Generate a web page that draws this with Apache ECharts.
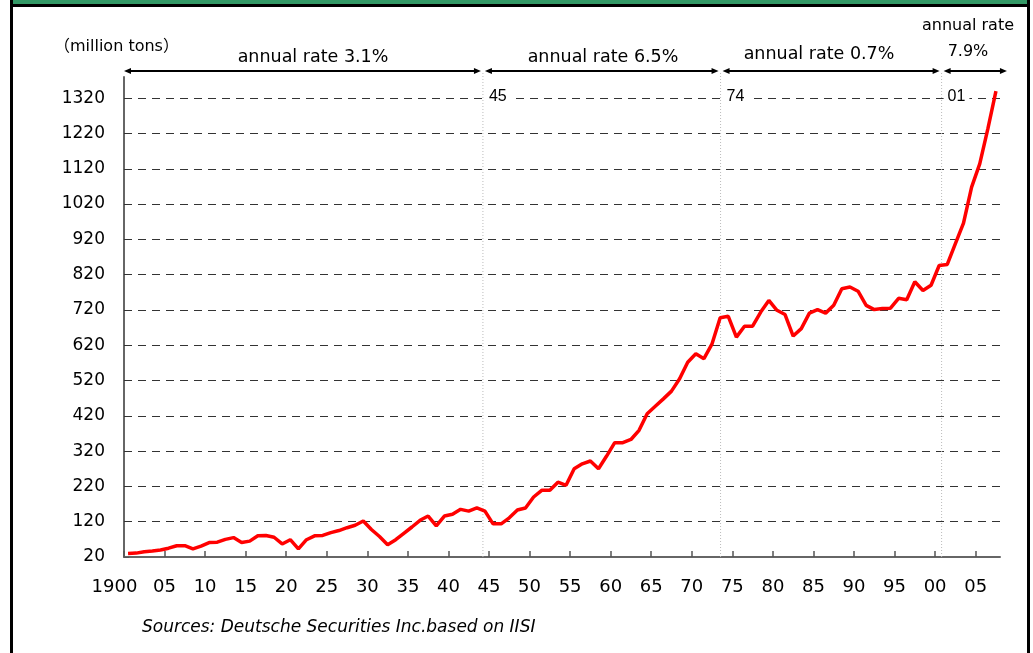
<!DOCTYPE html>
<html>
<head>
<meta charset="utf-8">
<script src="https://cdn.jsdelivr.net/npm/echarts@6/dist/echarts.min.js"></script>
<style>
html, body { margin: 0; padding: 0; background: #fff; }
#main { width: 1033px; height: 653px; }
</style>
</head>
<body>
<div id="main"></div>
<script>
// world crude steel production, million tons
var years = [
  1900, 1901, 1902, 1903, 1904, 1905, 1906, 1907, 1908, 1909,
  1910, 1911, 1912, 1913, 1914, 1915, 1916, 1917, 1918, 1919,
  1920, 1921, 1922, 1923, 1924, 1925, 1926, 1927, 1928, 1929,
  1930, 1931, 1932, 1933, 1934, 1935, 1936, 1937, 1938, 1939,
  1940, 1941, 1942, 1943, 1944, 1945, 1946, 1947, 1948, 1949,
  1950, 1951, 1952, 1953, 1954, 1955, 1956, 1957, 1958, 1959,
  1960, 1961, 1962, 1963, 1964, 1965, 1966, 1967, 1968, 1969,
  1970, 1971, 1972, 1973, 1974, 1975, 1976, 1977, 1978, 1979,
  1980, 1981, 1982, 1983, 1984, 1985, 1986, 1987, 1988, 1989,
  1990, 1991, 1992, 1993, 1994, 1995, 1996, 1997, 1998, 1999,
  2000, 2001, 2002, 2003, 2004, 2005, 2006, 2007
];
var steel = [
  30, 31, 35, 37, 40, 45, 52, 52, 43, 51,
  61, 62, 70, 75, 61, 65, 80, 81, 76, 57,
  69, 43, 69, 80, 81, 89, 95, 103, 110, 122,
  98, 78, 55, 69, 87, 105, 124, 136, 108, 136,
  141, 155, 150, 159, 150, 114, 114, 131, 153, 159,
  190, 209, 209, 232, 223, 270, 284, 292, 270, 306,
  344, 344, 353, 379, 426, 447, 468, 490, 525, 572,
  596, 582, 624, 698, 702, 643, 674, 674, 714, 747,
  719, 707, 646, 667, 711, 721, 711, 733, 780, 785,
  773, 733, 721, 724, 725, 753, 749, 800, 775, 790,
  846, 849, 908, 966, 1068, 1134, 1233, 1340
];
var yTicks = [20, 120, 220, 320, 420, 520, 620, 720, 820, 920, 1020, 1120, 1220, 1320];
var xTickLabels = ['1900', '05', '10', '15', '20', '25', '30', '35', '40', '45', '50',
  '55', '60', '65', '70', '75', '80', '85', '90', '95', '00', '05'];
// period boundaries (axis units) and growth labels
var periodBounds = [1899.5, 1943.75, 1973.05, 2000.3, 2008.6];
var rateLabels = ['annual rate 3.1%', 'annual rate 6.5%', 'annual rate 0.7%', 'annual rate\n7.9%'];
var breakLabels = ['45', '74', '01'];

var xStart = 1899.5;
var xTickValues = xTickLabels.map(function (l, i) { return xStart + 5 * i; });

var chart = echarts.init(document.getElementById('main'));

var option = {
  animation: false,
  backgroundColor: '#fff',
  grid: { left: 124, right: 33, top: 77, bottom: 96, outerBoundsMode: 'none' },
  xAxis: {
    type: 'value',
    min: xStart,
    max: 2007.5,
    axisLine: { lineStyle: { color: '#666', width: 2 } },
    axisTick: { inside: true, length: 6, customValues: xTickValues, lineStyle: { color: '#555', width: 1.5 } },
    axisLabel: {
      customValues: xTickValues,
      margin: 21,
      color: '#000',
      fontSize: 18,
      fontFamily: 'DejaVu Sans',
      formatter: function (v) {
        var i = Math.round((v - xStart) / 5);
        return i === 0 ? '{first|' + xTickLabels[0] + '}' : xTickLabels[i];
      },
      rich: {
        first: { fontSize: 18, fontFamily: 'DejaVu Sans', color: '#000', padding: [0, 19, 0, 0] }
      }
    },
    splitLine: { show: false }
  },
  yAxis: {
    type: 'value',
    min: 20,
    max: 1380,
    axisLine: { show: true, lineStyle: { color: '#666', width: 2 } },
    axisTick: { show: true, inside: true, length: 5, customValues: yTicks, lineStyle: { color: '#555' } },
    axisLabel: {
      customValues: yTicks, margin: 19, color: '#000', fontSize: 17, fontFamily: 'DejaVu Sans',
      formatter: function (v) { return String(v); }
    },
    splitLine: { show: false }
  },
  series: [{
    type: 'line',
    data: years.map(function (y, i) { return [y, steel[i]]; }),
    symbol: 'none',
    clip: false,
    z: 3,
    lineStyle: { color: '#ff0000', width: 3.5 },
    markLine: {
      silent: true,
      z: 1,
      symbol: 'none',
      label: { show: false },
      lineStyle: { color: '#333', width: 1, type: [8, 6] },
      data: yTicks.slice(1).map(function (v) { return { yAxis: v }; })
    }
  }]
};
chart.setOption(option);

function px(x, y) {
  return chart.convertToPixel({ gridIndex: 0 }, [x, y]);
}

var bottomY = px(xStart, 20)[1];
var arrowY = 71;
var els = [];

// frame
els.push({ type: 'rect', shape: { x: 10, y: 0, width: 1020, height: 5 }, style: { fill: '#339966' } });
els.push({ type: 'line', shape: { x1: 10, y1: 5.5, x2: 1030, y2: 5.5 }, style: { stroke: '#000', lineWidth: 3 } });
els.push({ type: 'line', shape: { x1: 11.5, y1: 0, x2: 11.5, y2: 653 }, style: { stroke: '#000', lineWidth: 3 } });
els.push({ type: 'line', shape: { x1: 1028.5, y1: 0, x2: 1028.5, y2: 653 }, style: { stroke: '#000', lineWidth: 3 } });

// dividers between periods
for (var b = 1; b < periodBounds.length - 1; b++) {
  var dx = px(periodBounds[b], 20)[0];
  els.push({
    type: 'line', z: 2,
    shape: { x1: dx, y1: arrowY + 2, x2: dx, y2: bottomY },
    style: { stroke: '#bbb', lineWidth: 1, lineDash: [1, 2] }
  });
  els.push({
    type: 'text', z: 5,
    x: dx + 2, y: px(xStart, 1320)[1] - 2,
    style: {
      text: breakLabels[b - 1], fill: '#000', fontSize: 16, fontFamily: 'Liberation Sans',
      verticalAlign: 'middle', align: 'left', backgroundColor: '#fff', padding: [1, 4, 1, 4]
    }
  });
}

// double arrows over each period
var rateLayout = [[313, 57], [603, 57], [819, 54], [968, 39]];
for (var p = 0; p < periodBounds.length - 1; p++) {
  var x1 = px(periodBounds[p], 20)[0] + (p > 0 ? 2 : 0);
  var x2 = px(periodBounds[p + 1], 20)[0] - 2;
  els.push({ type: 'line', z: 5, shape: { x1: x1 + 3, y1: arrowY, x2: x2 - 3, y2: arrowY }, style: { stroke: '#000', lineWidth: 2 } });
  els.push({ type: 'polygon', z: 5, shape: { points: [[x1, arrowY], [x1 + 7, arrowY - 3], [x1 + 7, arrowY + 3]] }, style: { fill: '#000' } });
  els.push({ type: 'polygon', z: 5, shape: { points: [[x2, arrowY], [x2 - 7, arrowY - 3], [x2 - 7, arrowY + 3]] }, style: { fill: '#000' } });
  var last = p === periodBounds.length - 2;
  els.push({
    type: 'text', z: 5,
    x: rateLayout[p][0], y: rateLayout[p][1],
    style: {
      text: rateLabels[p], fill: '#000',
      fontSize: last ? 16 : 17.5, lineHeight: 26,
      fontFamily: 'DejaVu Sans', align: 'center', verticalAlign: 'middle'
    }
  });
}

// unit and source
els.push({
  type: 'text', x: 54, y: 47,
  style: { text: '（million tons）', fill: '#000', fontSize: 16, fontFamily: 'DejaVu Sans, Noto Sans CJK JP', verticalAlign: 'middle' }
});
els.push({
  type: 'text', x: 142, y: 628,
  style: {
    text: 'Sources: Deutsche Securities Inc.based on IISI', fill: '#000',
    fontSize: 17, fontStyle: 'italic', fontFamily: 'DejaVu Sans', verticalAlign: 'middle'
  }
});

chart.setOption({ graphic: { elements: els } });
</script>
</body>
</html>
